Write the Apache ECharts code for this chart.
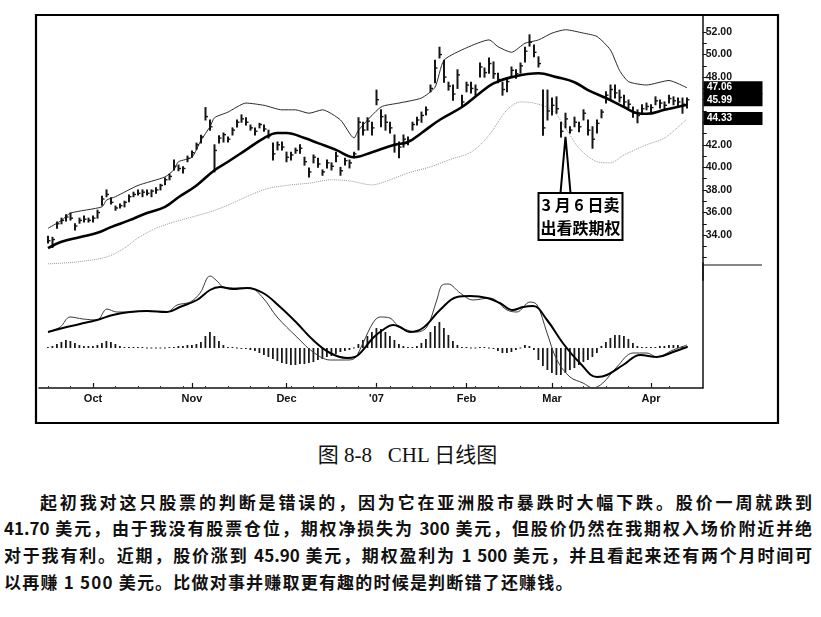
<!DOCTYPE html>
<html><head><meta charset="utf-8">
<script src="https://cdn.jsdelivr.net/npm/echarts@6/dist/echarts.min.js"></script>
<style>
html,body{margin:0;padding:0;background:#fff;width:821px;height:617px;overflow:hidden;}
#chart{position:absolute;left:0;top:0;width:821px;height:432px;}
#cap{position:absolute;left:0;top:441px;width:815px;text-align:center;font-size:21px;line-height:28px;font-family:'Liberation Serif','Noto Sans CJK SC',serif;color:#111;}
.pl{position:absolute;height:26px;line-height:26px;font-size:17px;font-weight:bold;font-family:'Noto Sans CJK SC',sans-serif;color:#111;text-align:justify;text-align-last:justify;overflow:hidden;}
</style></head><body>
<div id="chart"></div>
<div id="cap">图 8-8&nbsp;&nbsp;&nbsp;CHL 日线图</div>
<div class="pl" style="left:40px;top:489px;width:772px;">起初我对这只股票的判断是错误的，因为它在亚洲股市暴跌时大幅下跌。股价一周就跌到</div>
<div class="pl" style="left:4px;top:515px;width:808px;">41.70 美元，由于我没有股票仓位，期权净损失为 300 美元，但股价仍然在我期权入场价附近并绝</div>
<div class="pl" style="left:4px;top:542px;width:808px;">对于我有利。近期，股价涨到 45.90 美元，期权盈利为 1 500 美元，并且看起来还有两个月时间可</div>
<div class="pl" style="left:4px;top:569px;width:700px;text-align:left;text-align-last:left;letter-spacing:1.2px;">以再赚 1 500 美元。比做对事并赚取更有趣的时候是判断错了还赚钱。</div>
<script>
// ---- daily bars (trading-day index 0 = 18 Sep 2006) ----
const barHigh = [33.9,33.8,35.15,35.5,35.8,35.95,35.0,35.5,35.7,35.5,
35.7,36.2,37.45,38.0,37.3,36.57,36.75,37.0,37.55,37.8,
38.0,38.0,38.0,38.0,38.2,38.5,39.05,39.4,40.65,40.2,
40.05,41.0,41.45,42.15,42.85,45.3,44.2,42.0,42.8,43.05,
42.7,43.5,44.2,44.65,44.4,43.75,43.5,43.9,43.75,43.3,
42.15,42.25,42.25,41.35,41.35,41.7,42.0,40.9,39.95,41.1,
40.8,39.77,40.65,40.4,41.35,40.0,40.8,40.65,41.35,44.4,
44.0,44.4,44.0,46.85,45.1,44.65,44.0,42.87,42.25,42.87,
42.7,44.0,44.45,44.9,45.35,47.3,49.5,50.65,49.5,47.55,
47.3,48.65,46.4,47.55,47.55,47.3,49.25,48.8,49.7,49.35,
48.35,47.55,47.9,48.9,48.65,49.25,50.65,51.75,50.85,49.8,
46.85,46.85,46.15,46.25,44.0,44.8,43.6,44.45,44.0,45.1,
44.2,43.6,44.2,45.1,46.7,47.3,47.3,46.85,46.4,45.97,
45.35,45.1,45.55,45.7,45.55,46.25,45.97,45.8,46.4,46.25,
46.15,46.15,46.15];
const barLow = [33.3,32.9,34.6,35.0,35.25,35.33,34.45,35.05,35.15,35.15,
35.15,35.5,36.65,37.4,36.75,36.2,36.4,36.5,36.95,37.4,
37.55,37.4,37.55,37.4,37.7,38.0,38.45,38.9,39.77,39.7,
39.5,40.5,40.9,41.6,42.15,44.2,43.3,39.6,42.15,42.25,
42.25,42.87,43.58,44.0,43.75,43.3,42.87,43.5,43.2,42.6,
40.65,41.55,41.55,40.5,40.65,41.25,41.25,40.2,39.15,40.4,
40.0,39.3,39.95,39.77,40.5,39.3,40.2,39.95,40.85,41.55,
42.87,43.3,42.87,45.55,43.6,43.3,43.05,41.35,40.85,41.8,
42.0,43.3,43.75,44.0,44.65,46.7,47.5,49.7,47.55,46.85,
45.95,47.0,45.35,46.7,46.6,46.4,48.0,48.0,48.35,47.9,
47.5,46.4,46.7,48.0,47.9,48.35,49.35,50.75,49.8,48.9,
42.85,44.2,44.65,44.8,42.7,43.5,43.05,43.6,43.15,44.2,
42.87,41.7,43.05,44.4,45.7,45.95,46.15,45.8,45.35,45.27,
44.45,43.95,44.8,45.1,44.9,45.55,45.27,45.1,45.7,45.55,
45.35,44.8,45.27];
const barClose = [33.5,33.6,35.0,35.3,35.6,35.5,34.8,35.3,35.4,35.3,
35.5,36.0,37.2,37.6,36.9,36.4,36.6,36.9,37.4,37.6,
37.7,37.8,37.7,37.9,38.0,38.4,38.9,39.2,40.1,39.9,
39.9,40.8,41.3,42.0,42.7,44.5,43.6,41.5,42.6,42.9,
42.5,43.3,44.0,44.3,44.0,43.5,43.2,43.8,43.4,42.8,
41.2,42.0,41.8,40.9,41.1,41.5,41.7,40.5,39.6,40.9,
40.3,39.6,40.4,40.1,41.0,39.7,40.6,40.4,41.2,44.0,
43.3,44.1,43.5,46.0,44.5,44.0,43.5,42.0,41.8,42.5,
42.4,43.8,44.2,44.6,45.1,47.0,48.8,50.0,48.0,47.2,
46.5,48.2,45.8,47.3,47.0,46.9,48.9,48.4,49.2,48.3,
47.8,46.9,47.6,48.6,48.3,49.0,50.3,51.1,50.2,49.2,
43.5,45.0,45.5,45.2,43.2,44.3,43.3,44.0,43.6,44.8,
43.3,42.5,43.9,44.9,46.4,46.9,46.6,46.2,45.8,45.6,
44.8,44.6,45.2,45.4,45.3,45.9,45.7,45.5,46.1,45.9,
45.8,45.6,45.99];

// ---- moving average and bands: [day index, price] ----
const maLine = [[0,32.85],[3,33.4],[7,33.8],[11,34.2],[14,34.7],[18,35.3],[22,35.95],[26,36.5],[29,37.35],[33,38.4],[37,39.75],[40,40.5],[44,41.55],[48,42.6],[51,43.05],[53,43.05],[57,42.6],[60,42.15],[64,41.55],[68,40.9],[72,41.35],[77,42.0],[80,42.25],[83,43.05],[87,44.2],[92,45.35],[96,46.6],[99,47.45],[103,48.0],[109,48.35],[113,48.0],[117,47.55],[120,46.85],[124,46.15],[128,45.35],[131,44.8],[133,44.75],[137,45.1],[142,45.55]];
const upperBand = [[0,34.6],[3,35.3],[5,35.95],[12,36.5],[13,37.1],[15,37.4],[20,38.4],[26,39.15],[28,39.8],[29,40.5],[32,40.9],[34,42.4],[36,43.6],[37,44.4],[40,44.9],[44,45.7],[48,45.5],[52,45.1],[55,45.1],[58,44.8],[61,45.1],[65,44.2],[68,42.6],[69,43.3],[74,45.35],[78,45.7],[83,46.15],[86,47.1],[88,49.5],[93,50.6],[98,51.3],[100,50.7],[103,50.2],[106,51.0],[109,51.3],[112,51.9],[115,52.2],[119,51.9],[122,51.6],[125,50.4],[127,48.6],[129,47.6],[133,47.3],[138,47.7],[142,47.05]];
const lowerBand = [[0,31.45],[6,31.6],[13,32.05],[17,32.85],[20,33.75],[24,34.6],[28,35.15],[32,35.6],[36,36.05],[40,36.65],[45,37.55],[49,38.15],[54,38.45],[58,38.6],[63,38.9],[67,38.8],[72,38.45],[76,38.9],[80,39.5],[85,40.05],[89,40.65],[94,41.35],[98,42.85],[102,45.1],[105,45.8],[108,45.7],[112,45.1],[115,43.5],[118,41.7],[122,40.5],[125,40.4],[128,41.1],[133,42.0],[137,42.6],[142,44.3]];

// ---- MACD panel ----
const macdLine = [[0,0.8],[2.7,1.05],[4.9,1.55],[7.8,1.45],[10.9,1.4],[13.1,1.95],[15.3,1.8],[18.2,1.8],[22,1.85],[26.4,1.8],[28.7,2.15],[31.6,2.3],[33.8,2.75],[36,3.6],[37.8,3.3],[38.9,3.05],[42,3.0],[44.9,3.0],[47.8,2.5],[50.9,1.55],[55.3,0.55],[58.9,-0.2],[62.7,-0.6],[66.4,-0.6],[68.2,-0.5],[70,0.25],[72.2,1.25],[73.8,1.55],[76,1.5],[77.6,1.15],[79.8,0.9],[82,0.8],[84.2,1.05],[86.4,2.4],[87.6,3.15],[88.9,3.2],[91.6,2.75],[94.4,2.4],[98.2,2.5],[102,1.9],[104.2,1.8],[107.1,2.3],[108.7,2.15],[110.9,0.75],[113.1,-0.6],[116,-1.45],[118.9,-1.75],[121.1,-2.0],[123.3,-1.75],[126.4,-0.95],[130,-0.25],[133.1,-0.25],[135.3,-0.45],[138.9,-0.1],[142,0.15]];
const signalLine = [[0,0.8],[3.3,1.0],[7.1,1.2],[10.9,1.4],[14.4,1.65],[18.2,1.8],[22,1.85],[26.4,1.8],[29.3,2.05],[33.1,2.4],[36,2.9],[38.2,3.05],[41.1,2.95],[44.2,3.0],[47.8,2.75],[51.6,2.05],[55.3,1.25],[58.9,0.4],[62.7,-0.25],[66.4,-0.5],[68.2,-0.45],[70,-0.1],[72.2,0.5],[74.4,0.9],[76.7,1.15],[78.2,1.05],[80.4,0.8],[83.3,1.0],[87.1,1.9],[90.9,2.55],[93.8,2.6],[97.6,2.5],[100.4,2.25],[103.3,1.9],[105.6,2.05],[107.8,2.1],[110.9,1.4],[114.4,0.25],[118.2,-0.75],[122,-1.45],[124.2,-1.35],[127.8,-0.85],[131.6,-0.35],[135.3,-0.45],[138.9,-0.2],[142,0.05]];
const macdHist = [0.05,0.1,0.2,0.3,0.4,0.35,0.25,0.15,0.1,0.1,
0.1,0.15,0.25,0.35,0.3,0.2,0.1,0.05,0.05,0.05,
0.05,0.05,0,0,0,0,0,0.05,0.05,0.1,
0.1,0.15,0.15,0.2,0.3,0.6,0.8,0.6,0.35,0.15,
0.05,0.05,0,-0.05,-0.05,-0.1,-0.15,-0.25,-0.35,-0.45,
-0.55,-0.65,-0.75,-0.8,-0.85,-0.85,-0.8,-0.8,-0.75,-0.7,
-0.6,-0.55,-0.45,-0.4,-0.3,-0.2,-0.15,-0.1,0,0.2,
0.4,0.6,0.8,1.0,0.95,0.8,0.6,0.4,0.2,0.1,
0.05,0.05,0.1,0.25,0.45,0.8,1.1,1.3,1.0,0.65,
0.35,0.15,0.05,0.05,0,0,0.05,0.05,0,-0.05,
-0.15,-0.25,-0.25,-0.2,-0.1,0,0.15,0.1,-0.1,-0.6,
-0.9,-1.1,-1.25,-1.35,-1.35,-1.25,-1.1,-1.0,-0.85,-0.7,
-0.6,-0.45,-0.25,0.1,0.3,0.5,0.65,0.65,0.6,0.45,
0.25,0.1,0.05,0.05,0.05,0.05,0.1,0.1,0.15,0.15,
0.15,0.1,0.1];

// ---- axes ----
const monthTickIdx = [10,32,53,73,93,112,134];
const monthLabels = ['Oct','Nov','Dec',"'07",'Feb','Mar','Apr'];
const weekTickIdx = [0,5,10,15,20,25,30,35,40,45,49,54,59,64,69,73,76,81,85,90,95,100,105,109,114,119,124,129,134,138];
const priceLabelValues = [34,36,38,40,42,48,50,52];
const priceTickValues = [32,33,34,35,36,37,38,39,40,41,42,43,44,45,46,47,48,49,50,51,52];
const axisBoxValues = [47.06,45.99,44.33];
const annotDay = 115, annotPrice = 42.7;
const annotLines = ['3 月 6 日卖','出看跌期权'];

const barData = barHigh.map((h,i)=>[i,h,barLow[i],barClose[i]]);
const histData = macdHist.map((v,i)=>[i,v]);

function renderBar(params, api){
  const x = api.value(0);
  const pH = api.coord([x, api.value(1)]);
  const pL = api.coord([x, api.value(2)]);
  const pC = api.coord([x, api.value(3)]);
  return {type:'group', children:[
    {type:'line', shape:{x1:pH[0],y1:pH[1]-0.5,x2:pL[0],y2:pL[1]+0.5}, style:{stroke:'#151515',lineWidth:2}},
    {type:'line', shape:{x1:pC[0],y1:pC[1],x2:pC[0]+2.5,y2:pC[1]}, style:{stroke:'#151515',lineWidth:1.4}}
  ]};
}
function renderHist(params, api){
  const x = api.value(0), v = api.value(1);
  const p0 = api.coord([x,0]);
  const p1 = api.coord([x,v]);
  let top = Math.min(p0[1],p1[1]), h = Math.abs(p1[1]-p0[1]);
  if (h < 1) { h = 1; top = p0[1]-0.5; }
  return {type:'rect', shape:{x:p0[0]-1, y:top, width:1.8, height:h}, style:{fill:'#1a1a1a'}};
}

const X_MIN = -2, X_MAX = 145.5;
const option = {
  animation:false,
  backgroundColor:'#fff',
  grid:[
    {left:39, right:118.25, top:15.08, height:265.1},
    {left:39, right:118.25, top:263, height:125}
  ],
  xAxis:[
    {type:'value', gridIndex:0, min:X_MIN, max:X_MAX, show:false, axisLine:{onZero:false}},
    {type:'value', gridIndex:1, min:X_MIN, max:X_MAX, position:'bottom',
      axisLine:{show:true, onZero:false, lineStyle:{color:'#111', width:1.5}},
      axisTick:{show:true, inside:true, length:5, customValues:monthTickIdx, lineStyle:{color:'#111', width:1.2}},
      axisLabel:{show:true, customValues:monthTickIdx, margin:5, color:'#111', fontSize:11, fontWeight:'bold', fontFamily:'Liberation Sans, Arial, sans-serif',
        formatter:(v)=>monthLabels[monthTickIdx.indexOf(Math.round(v))] || ''},
      splitLine:{show:false}},
    {type:'value', gridIndex:1, min:X_MIN, max:X_MAX, position:'bottom',
      axisLine:{show:false, onZero:false}, axisLabel:{show:false}, splitLine:{show:false},
      axisTick:{show:true, inside:true, length:2, customValues:weekTickIdx, lineStyle:{color:'#333', width:1}}}
  ],
  yAxis:[
    {type:'value', gridIndex:0, position:'right', min:30, max:53.5,
      axisLine:{show:true, onZero:false, lineStyle:{color:'#111', width:1.5}},
      axisTick:{show:true, length:4, customValues:priceTickValues, lineStyle:{color:'#111', width:1}},
      axisLabel:{show:true, customValues:priceLabelValues, margin:3, color:'#111', fontSize:10.5, fontWeight:'bold', fontFamily:'Liberation Sans, Arial, sans-serif',
        formatter:(v)=>v.toFixed(2)},
      splitLine:{show:false}},
    {type:'value', gridIndex:1, position:'right', min:-2, max:4.25,
      axisLine:{show:true, onZero:false, lineStyle:{color:'#111', width:1.5}},
      axisTick:{show:false}, axisLabel:{show:false}, splitLine:{show:false}}
  ],
  series:[
    {type:'line', name:'Lower band', xAxisIndex:0, yAxisIndex:0, data:lowerBand, smooth:0.3, symbol:'none',
      lineStyle:{color:'#9a9a9a', width:1, type:'dotted'}, z:2},
    {type:'line', name:'Upper band', xAxisIndex:0, yAxisIndex:0, data:upperBand, smooth:0.2, symbol:'none',
      lineStyle:{color:'#2a2a2a', width:1}, z:2},
    {type:'custom', name:'Price', xAxisIndex:0, yAxisIndex:0, data:barData, renderItem:renderBar,
      encode:{x:0, y:[1,2,3]}, z:3},
    {type:'line', name:'MA', xAxisIndex:0, yAxisIndex:0, data:maLine, smooth:0.4, symbol:'none',
      lineStyle:{color:'#000', width:2.6}, z:4},
    {type:'custom', name:'Histogram', xAxisIndex:1, yAxisIndex:1, data:histData, renderItem:renderHist,
      encode:{x:0, y:1}, z:2},
    {type:'line', name:'MACD', xAxisIndex:1, yAxisIndex:1, data:macdLine, smooth:0.35, symbol:'none',
      lineStyle:{color:'#3a3a3a', width:1}, z:3},
    {type:'line', name:'Signal', xAxisIndex:1, yAxisIndex:1, data:signalLine, smooth:0.4, symbol:'none',
      lineStyle:{color:'#000', width:2}, z:4}
  ]
};

const chart = echarts.init(document.getElementById('chart'), null, {renderer:'canvas'});
chart.setOption(option);

const g = [];
g.push({type:'rect', silent:true, z:100, shape:{x:36, y:15, width:742, height:408},
  style:{fill:'none', stroke:'#000', lineWidth:2.2}});
g.push({type:'line', silent:true, z:100, shape:{x1:703, y1:265, x2:762, y2:265},
  style:{stroke:'#111', lineWidth:1.2}});
axisBoxValues.forEach((v)=>{
  const y = chart.convertToPixel({yAxisIndex:0}, v);
  g.push({type:'rect', silent:true, z:101, shape:{x:703.5, y:y-6.5, width:59, height:13}, style:{fill:'#000'}});
  g.push({type:'text', silent:true, z:102, style:{text:v.toFixed(2), x:707, y:y, fill:'#fff',
    font:'bold 10px "Liberation Sans", Arial, sans-serif', textAlign:'left', textVerticalAlign:'middle'}});
});
const tip = chart.convertToPixel({gridIndex:0}, [annotDay, annotPrice]);
const bx = tip[0]-27, by = tip[1]+56, bw = 84, bh = 47;
g.push({type:'polygon', silent:true, z:103, shape:{points:[[tip[0],tip[1]],[tip[0]-5,by],[tip[0]+5,by]]},
  style:{fill:'#fff', stroke:'#000', lineWidth:2}});
g.push({type:'rect', silent:true, z:104, shape:{x:bx, y:by, width:bw, height:bh},
  style:{fill:'#fff', stroke:'#000', lineWidth:2}});
annotLines.forEach((t,k)=>{
  g.push({type:'text', silent:true, z:105, style:{text:t, x:bx+bw/2, y:by+12+k*23, fill:'#000',
    font:'bold 16px "Noto Sans CJK SC", sans-serif', textAlign:'center', textVerticalAlign:'middle'}});
});
chart.setOption({graphic:g});
</script>
</body></html>
